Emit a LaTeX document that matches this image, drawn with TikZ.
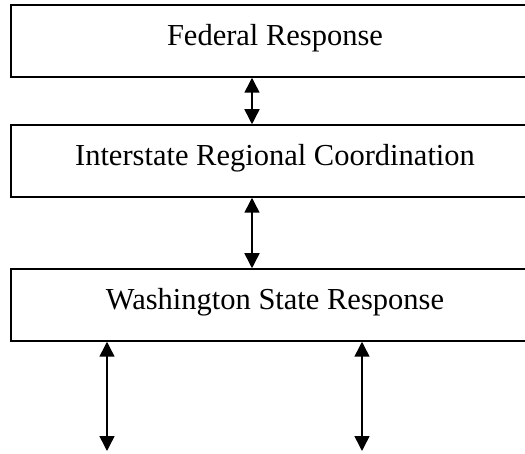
\documentclass[tikz,border=0pt]{standalone}
\usepackage{fontspec}
\setmainfont{Liberation Serif}
\usetikzlibrary{arrows.meta}
\begin{document}
\begin{tikzpicture}[x=1pt,y=-1pt,
  box/.style={draw, line width=1.5pt, rectangle, minimum width=528pt, minimum height=72pt,
    inner sep=0pt, font=\fontsize{30.5}{34}\selectfont, text height=20pt, text depth=10pt},
  link/.style={line width=1.5pt, {Triangle[width=15pt,length=15pt]}-{Triangle[width=15pt,length=15pt]}}]
\useasboundingbox (0,0) rectangle (525,454);
\clip (0,0) rectangle (525,454);
\node[box] (fed) at (275,41) {Federal Response};
\node[box] (inter) at (275,161) {Interstate Regional Coordination};
\node[box] (wash) at (275,305) {Washington State Response};
\coordinate (e1) at (107,451);
\coordinate (e2) at (362,451);
\draw[link] (fed.south -| 252,0) -- (inter.north -| 252,0);
\draw[link] (inter.south -| 252,0) -- (wash.north -| 252,0);
\draw[link] (wash.south -| e1) -- (e1);
\draw[link] (wash.south -| e2) -- (e2);
\end{tikzpicture}
\end{document}
